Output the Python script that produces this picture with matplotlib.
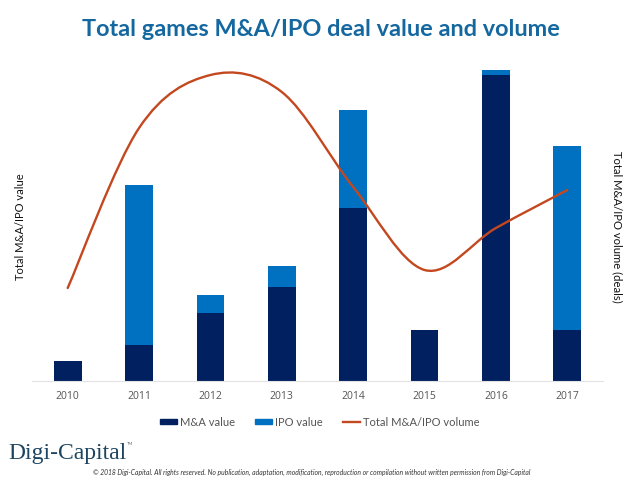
import matplotlib
matplotlib.use('Agg')
import matplotlib.pyplot as plt
from matplotlib.path import Path
from matplotlib.patches import PathPatch
from matplotlib.lines import Line2D
from matplotlib.patches import Patch
import numpy as np

years = ['2010', '2011', '2012', '2013', '2014', '2015', '2016', '2017']
ma_value = [20, 36, 68, 94, 173, 51, 306, 51]
ipo_value = [0, 160, 18, 21, 98, 0, 5, 184]
volume = [93, 253, 306, 289, 194, 111, 153, 191]

DARK = '#002060'
BLUE = '#0070c0'
ORANGE = '#c4481f'
TITLE = '#14689f'

plt.rcParams['font.family'] = ['Lato', 'DejaVu Sans']

fig = plt.figure(figsize=(6.4, 4.8), dpi=100)
# axes box in figure fractions, worked out from the pixel positions
ax = fig.add_axes([32 / 640, 1 - 381 / 480, 571 / 640, 321 / 480])
x = np.arange(len(years))
ax.bar(x, ma_value, width=0.39, color=DARK)
ax.bar(x, ipo_value, width=0.39, bottom=ma_value, color=BLUE)
ax.set_xlim(-0.5, 7.5)
ax.set_ylim(0, 321)
ax.set_xticks(x)
ax.set_xticklabels(years, fontsize=7.5, color='#555555', family=['Open Sans', 'DejaVu Sans'])
ax.tick_params(axis='x', length=0, pad=7)
ax.set_yticks([])
for s in ['top', 'left', 'right']:
    ax.spines[s].set_visible(False)
ax.spines['bottom'].set_color('#e2e2e2')
ax.spines['bottom'].set_linewidth(0.8)

# smoothed volume line, same look as a spreadsheet smoothed series
ax2 = ax.twinx()
ax2.set_ylim(0, 321)
ax2.set_yticks([])
for s in ax2.spines.values():
    s.set_visible(False)
pts = np.column_stack([x, volume]).astype(float)
verts = [pts[0]]
codes = [Path.MOVETO]
for i in range(len(pts) - 1):
    p0 = pts[max(i - 1, 0)]
    p1 = pts[i]
    p2 = pts[i + 1]
    p3 = pts[min(i + 2, len(pts) - 1)]
    verts += [p1 + (p2 - p0) / 6, p2 - (p3 - p1) / 6, p2]
    codes += [Path.CURVE4, Path.CURVE4, Path.CURVE4]
ax2.add_patch(PathPatch(Path(verts, codes), fill=False, edgecolor=ORANGE, linewidth=1.7, capstyle='round'))

fig.text(320.5 / 640, 1 - 30 / 480, 'Total games M&A/IPO deal value and volume', ha='center', va='center',
         fontsize=16.9, color=TITLE, fontweight='bold')
fig.text(21 / 640, 1 - 227 / 480, 'Total M&A/IPO value', rotation=90, ha='center', va='center', fontsize=8, color='#111111')
fig.text(617 / 640, 1 - 227 / 480, 'Total M&A/IPO volume (deals)', rotation=270, ha='center', va='center', fontsize=8.1, color='#111111')

handles = [Patch(color=DARK), Patch(color=BLUE), Line2D([0], [0], color=ORANGE, linewidth=1.7)]
fig.legend(handles, ['M&A value', 'IPO value', 'Total M&A/IPO volume'], loc='center', bbox_to_anchor=(320 / 640, 1 - 422 / 480),
           ncol=3, frameon=False, fontsize=8, labelcolor='#555555', handlelength=1.5, handleheight=0.35, handletextpad=0.3, columnspacing=1.8)

fig.text(8 / 640, 1 - 453 / 480, 'Digi-Capital', ha='left', va='center', fontsize=17, color='#1d4560', family=['Liberation Serif', 'DejaVu Serif'])
fig.text(130 / 640, 1 - 444 / 480, 'TM', ha='center', va='center', fontsize=3, color='#666666')
fig.text(312 / 640, 1 - 472 / 480, '© 2018 Digi-Capital. All rights reserved. No publication, adaptation, modification, reproduction or compilation without written permission from Digi-Capital',
         ha='center', va='center', fontsize=4.85, style='italic', color='#333333')

fig.savefig('out.png', dpi=100)
